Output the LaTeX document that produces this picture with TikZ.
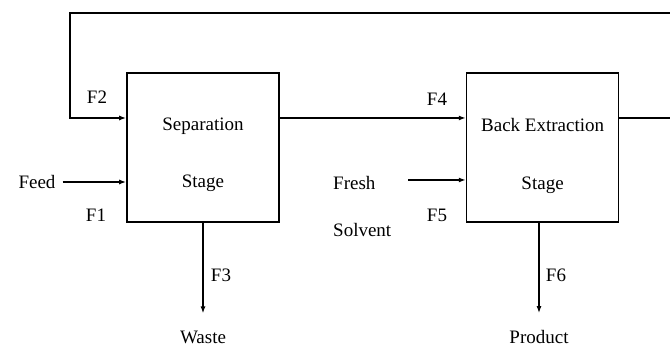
\documentclass[tikz,border=0pt]{standalone}
\usepackage{fontspec}
\setmainfont{Liberation Serif}
\usetikzlibrary{arrows.meta,calc,positioning}

\begin{document}
\begin{tikzpicture}[x=1pt,y=1pt,
    unit/.style={draw,line width=1.6pt,minimum width=152pt,
                 minimum height=149pt,inner sep=0pt},
    lbl/.style={font=\fontsize{19}{23}\selectfont,inner sep=1pt},
    flow/.style={-{Latex[length=7pt,width=5pt]},line width=1.5pt}
  ]
    \useasboundingbox (0,0) rectangle (670,350);
    \node[unit] (sep) at (203,202.5) {};
    \node[unit,right=186pt of sep] (bex) {};
    \node[lbl] at ([yshift=21.5pt]sep.center) {Separation};
    \node[lbl] at ([yshift=-35.5pt]sep.center) {Stage};
    \node[lbl] at ([yshift=22.5pt]bex.center) {Back Extraction};
    \node[lbl] at ([yshift=-37.5pt]bex.center) {Stage};
    % streams in and out
    \node[lbl] (feed) at (37,168) {Feed};
    \node[lbl,anchor=west] (fresh) at (332,167) {Fresh};
    \node[lbl,anchor=west] (solv) at (332,120) {Solvent};
    \node[lbl] (waste) at (203,13) {Waste};
    \node[lbl] (prod) at (539,13) {Product};
    \node[lbl] (f1) at (96,135) {F1};
    \node[lbl] (f2) at (97,253) {F2};
    \node[lbl] (f3) at (221,75) {F3};
    \node[lbl] (f4) at (437,251) {F4};
    \node[lbl] (f5) at (437,135) {F5};
    \node[lbl] (f6) at (556,75) {F6};
    \coordinate (fsin) at (408,170);
    \coordinate (rc) at (671.5,337);
    \coordinate (lc) at (70,337);
    \draw[flow,shorten <=6pt] (feed.east) -- (sep.west |- feed.east);
    \draw[flow] (fsin) -- (bex.west |- fsin);
    \draw[flow] ([yshift=29.5pt]sep.east) -- ([yshift=29.5pt]bex.west);
    \draw[flow] ([yshift=29.5pt]bex.east) -| (rc) -- (lc) |- ([yshift=29.5pt]sep.west);
    \draw[flow] (sep.south) -- ([yshift=16pt]waste.north);
    \draw[flow] (sep.south -| prod) -- ([yshift=16pt]prod.north);
\end{tikzpicture}
\end{document}
